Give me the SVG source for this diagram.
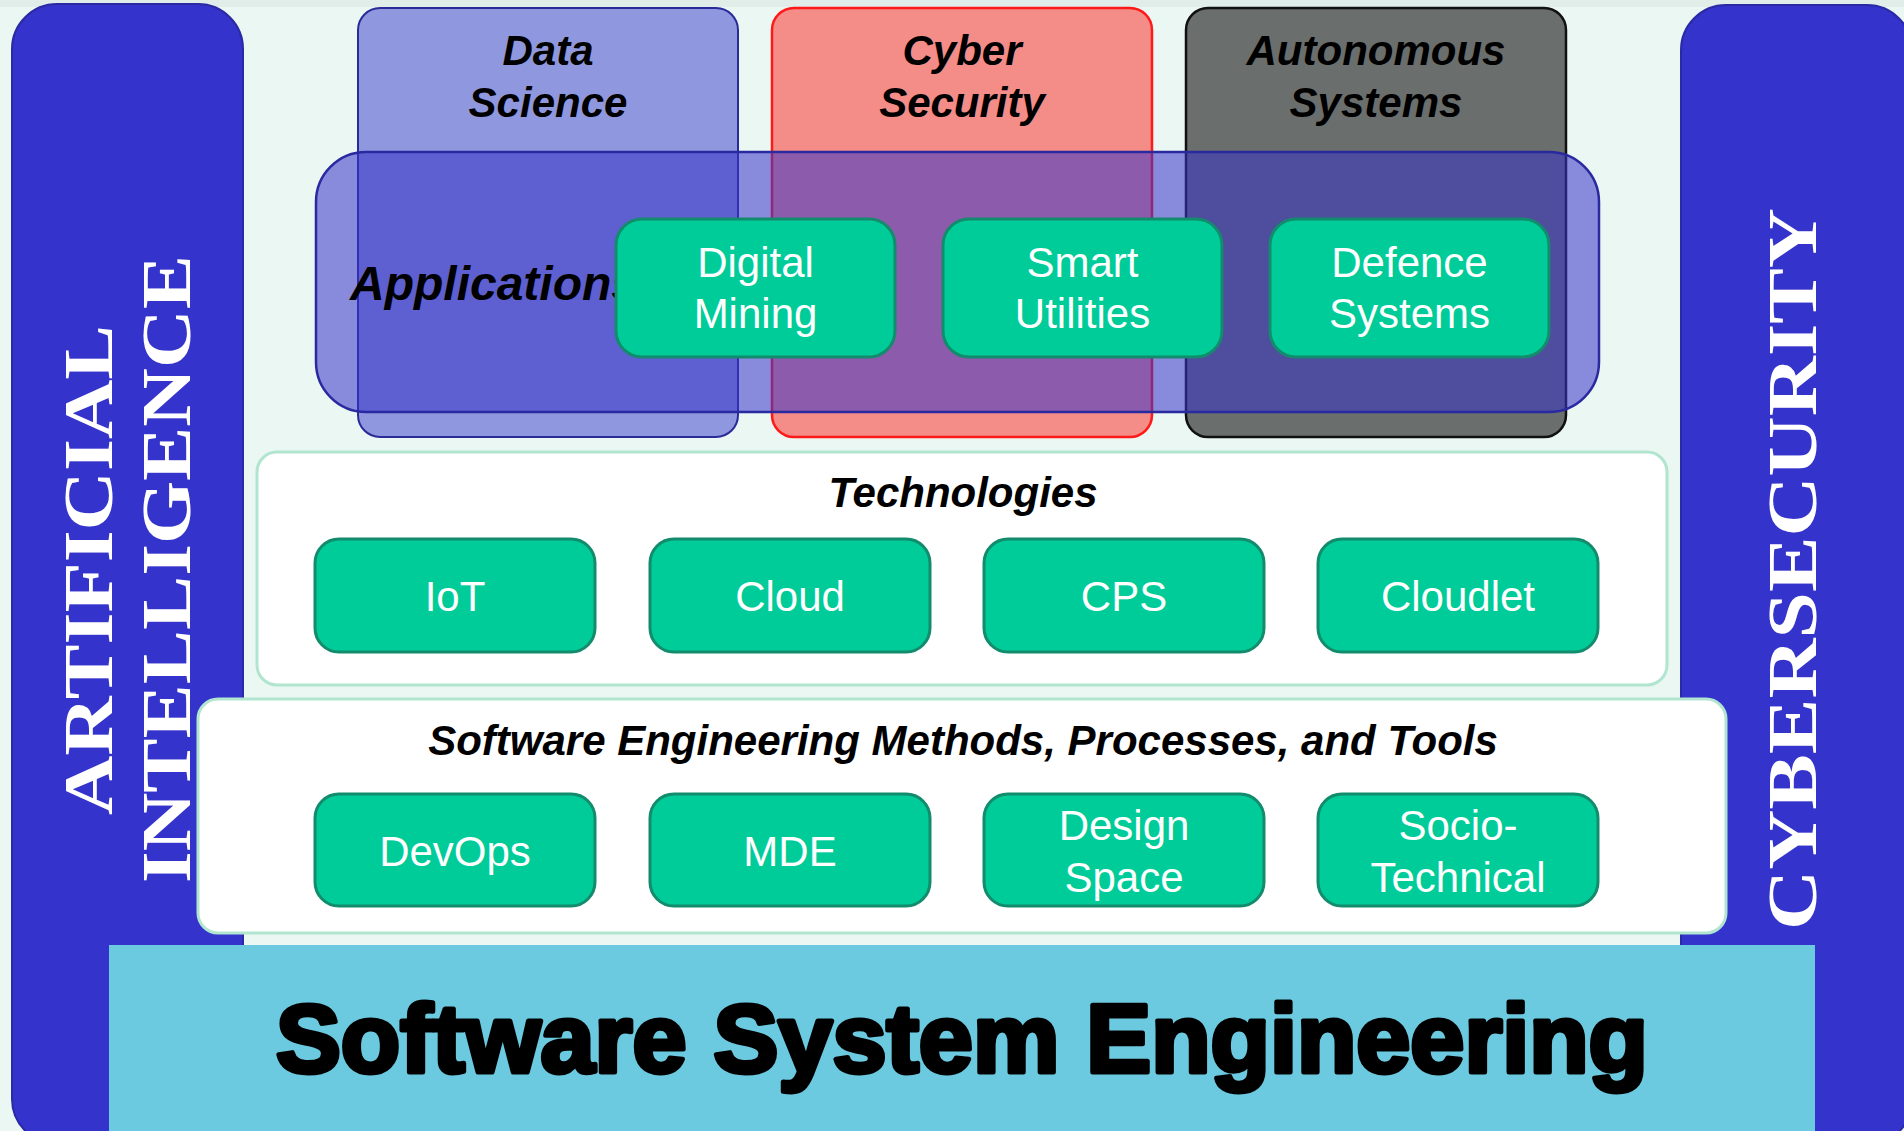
<svg xmlns="http://www.w3.org/2000/svg" width="1904" height="1131" viewBox="0 0 1904 1131">
  <style>
    .side { fill:#3433CB; stroke:#2A2AA5; stroke-width:2; }
    .vt { font-family:"Liberation Serif","Times New Roman",serif; font-weight:bold; font-size:70px; fill:#ffffff; text-anchor:middle; }
    .title { font-family:"Liberation Sans",Arial,sans-serif; font-size:42px; font-weight:bold; font-style:italic; fill:#000000; text-anchor:middle; }
    .green { fill:#00CC99; stroke:#128C6C; stroke-width:3; }
    .gt { font-family:"Liberation Sans",Arial,sans-serif; font-size:42px; fill:#ffffff; text-anchor:middle; }
    .panel { fill:#ffffff; stroke:#B2E5D0; stroke-width:3; }
  </style>
  <rect x="0" y="0" width="1904" height="1131" fill="#EBF7F3"/>
  <rect x="0" y="0" width="1904" height="7" fill="#E1EDE9"/>

  <g id="artificial-intelligence">
    <rect class="side" x="12" y="4" width="231" height="1140" rx="45" ry="45"/>
    <text class="vt" transform="translate(112,570) rotate(-90)" textLength="490" lengthAdjust="spacingAndGlyphs">ARTIFICIAL</text>
    <text class="vt" transform="translate(190,569) rotate(-90)" textLength="628" lengthAdjust="spacingAndGlyphs">INTELLIGENCE</text>
  </g>

  <g id="cybersecurity">
    <rect class="side" x="1681" y="5" width="231" height="1140" rx="45" ry="45"/>
    <text class="vt" transform="translate(1816,569) rotate(-90)" textLength="722" lengthAdjust="spacingAndGlyphs">CYBERSECURITY</text>
  </g>

  <g id="data-science">
    <rect x="358" y="8" width="380" height="429" rx="22" ry="22" fill="#8F98DE" stroke="#2A2A99" stroke-width="2"/>
    <text class="title" x="548" y="65">Data</text>
    <text class="title" x="548" y="117">Science</text>
  </g>

  <g id="cyber-security">
    <rect x="772" y="8" width="380" height="429" rx="22" ry="22" fill="#F48C88" stroke="#FF1A1A" stroke-width="2.5"/>
    <text class="title" x="962" y="65">Cyber</text>
    <text class="title" x="962" y="117">Security</text>
  </g>

  <g id="autonomous-systems">
    <rect x="1186" y="8" width="380" height="429" rx="22" ry="22" fill="#6A6E6C" stroke="#111111" stroke-width="2.5"/>
    <text class="title" x="1376" y="65">Autonomous</text>
    <text class="title" x="1376" y="117">Systems</text>
  </g>

  <g id="applications">
    <rect x="316" y="152" width="1283" height="260" rx="50" ry="50" fill="#3633C8" fill-opacity="0.55" stroke="#2A2AA0" stroke-width="2.5"/>
    <text x="350" y="300" font-family="Liberation Sans, Arial, sans-serif" font-size="48" font-weight="bold" font-style="italic" fill="#000">Applications</text>
  </g>

  <g id="digital-mining">
    <rect class="green" x="616" y="219" width="279" height="138" rx="26" ry="26"/>
    <text class="gt" x="755.5" y="277">Digital</text>
    <text class="gt" x="755.5" y="328">Mining</text>
  </g>
  <g id="smart-utilities">
    <rect class="green" x="943" y="219" width="279" height="138" rx="26" ry="26"/>
    <text class="gt" x="1082.5" y="277">Smart</text>
    <text class="gt" x="1082.5" y="328">Utilities</text>
  </g>
  <g id="defence-systems">
    <rect class="green" x="1270" y="219" width="279" height="138" rx="26" ry="26"/>
    <text class="gt" x="1409.5" y="277">Defence</text>
    <text class="gt" x="1409.5" y="328">Systems</text>
  </g>

  <g id="technologies">
    <rect class="panel" x="257" y="452" width="1410" height="233" rx="20" ry="20"/>
    <text class="title" x="963" y="507">Technologies</text>
  </g>
  <g id="iot">
    <rect class="green" x="315" y="539" width="280" height="113" rx="24" ry="24"/>
    <text class="gt" x="455" y="611">IoT</text>
  </g>
  <g id="cloud">
    <rect class="green" x="650" y="539" width="280" height="113" rx="24" ry="24"/>
    <text class="gt" x="790" y="611">Cloud</text>
  </g>
  <g id="cps">
    <rect class="green" x="984" y="539" width="280" height="113" rx="24" ry="24"/>
    <text class="gt" x="1124" y="611">CPS</text>
  </g>
  <g id="cloudlet">
    <rect class="green" x="1318" y="539" width="280" height="113" rx="24" ry="24"/>
    <text class="gt" x="1458" y="611">Cloudlet</text>
  </g>

  <g id="se-methods">
    <rect class="panel" x="198" y="699" width="1528" height="234" rx="20" ry="20"/>
    <text class="title" x="963" y="755">Software Engineering Methods, Processes, and Tools</text>
  </g>
  <g id="devops">
    <rect class="green" x="315" y="794" width="280" height="112" rx="24" ry="24"/>
    <text class="gt" x="455" y="866">DevOps</text>
  </g>
  <g id="mde">
    <rect class="green" x="650" y="794" width="280" height="112" rx="24" ry="24"/>
    <text class="gt" x="790" y="866">MDE</text>
  </g>
  <g id="design-space">
    <rect class="green" x="984" y="794" width="280" height="112" rx="24" ry="24"/>
    <text class="gt" x="1124" y="840">Design</text>
    <text class="gt" x="1124" y="892">Space</text>
  </g>
  <g id="socio-technical">
    <rect class="green" x="1318" y="794" width="280" height="112" rx="24" ry="24"/>
    <text class="gt" x="1458" y="840">Socio-</text>
    <text class="gt" x="1458" y="892">Technical</text>
  </g>

  <g id="software-system-engineering">
    <rect x="109" y="945" width="1706" height="190" fill="#6CCAE0"/>
    <text x="962" y="1072" font-family="Liberation Sans, Arial, sans-serif" font-size="97" font-weight="bold" fill="#000" stroke="#000" stroke-width="5" stroke-linejoin="round" text-anchor="middle" textLength="1372" lengthAdjust="spacingAndGlyphs">Software System Engineering</text>
  </g>

  <g id="connectors"/>
</svg>
